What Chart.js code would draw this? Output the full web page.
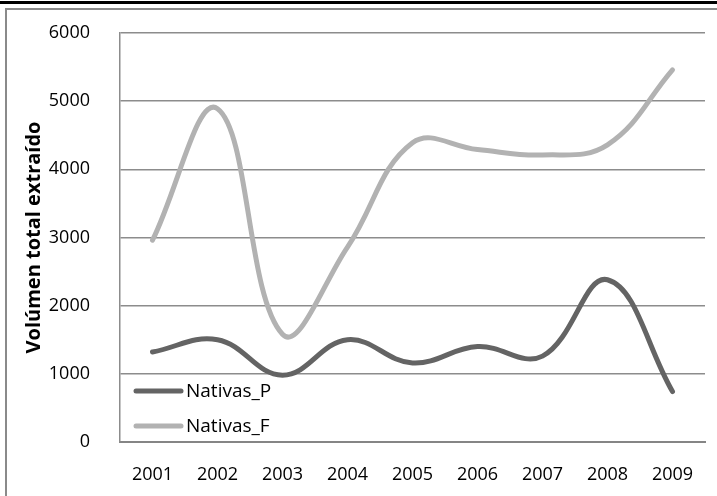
<!DOCTYPE html>
<html>
<head>
<meta charset="utf-8">
<script src="https://cdn.jsdelivr.net/npm/chart.js@4.4.1/dist/chart.umd.min.js"></script>
<style>
  html, body { margin: 0; padding: 0; background: #fff; }
  #wrap { width: 717px; height: 496px; position: relative; }
</style>
</head>
<body>
<div id="wrap"><canvas id="c" width="717" height="496"></canvas></div>
<script>
// Volumen extraído por año, especies nativas
const years = ['2001', '2002', '2003', '2004', '2005', '2006', '2007', '2008', '2009'];
const nativasP = [1320, 1500, 980, 1500, 1160, 1400, 1260, 2380, 740];
const nativasF = [2960, 4890, 1580, 2860, 4390, 4290, 4210, 4360, 5460];
const yTicks = [0, 1000, 2000, 3000, 4000, 5000, 6000];

const FONT = '"Open Sans", "Noto Sans", sans-serif';

// outer frame of the figure
const framePlugin = {
  id: 'frame',
  beforeDraw(chart) {
    const ctx = chart.ctx;
    ctx.save();
    ctx.fillStyle = '#fff';
    ctx.fillRect(0, 0, chart.width, chart.height);
    ctx.strokeStyle = '#000';
    ctx.lineWidth = 3;
    ctx.beginPath();
    ctx.moveTo(0, 2.5); ctx.lineTo(chart.width, 2.5);
    ctx.stroke();
    ctx.strokeStyle = '#8a8a8a';
    ctx.lineWidth = 2;
    ctx.beginPath();
    ctx.moveTo(6, chart.height); ctx.lineTo(6, 9); ctx.lineTo(chart.width, 9);
    ctx.stroke();
    ctx.restore();
  }
};

// legend drawn inside the lower-left corner of the plot
const innerLegend = {
  id: 'innerLegend',
  afterDatasetsDraw(chart) {
    const ctx = chart.ctx;
    const a = chart.chartArea;
    ctx.save();
    ctx.font = '19px ' + FONT;
    ctx.textBaseline = 'middle';
    ctx.textAlign = 'left';
    chart.data.datasets.forEach((ds, i) => {
      const y = a.bottom - 51 + i * 35;
      ctx.strokeStyle = ds.borderColor;
      ctx.lineWidth = 5;
      ctx.lineCap = 'round';
      ctx.beginPath();
      ctx.moveTo(a.left + 16, y); ctx.lineTo(a.left + 61, y);
      ctx.stroke();
      ctx.fillStyle = '#000';
      ctx.fillText(ds.label, a.left + 66, y + 1);
    });
    ctx.restore();
  }
};

new Chart(document.getElementById('c'), {
  type: 'line',
  data: {
    labels: years,
    datasets: [
      { label: 'Nativas_P', data: nativasP, borderColor: '#646464', backgroundColor: '#646464',
        borderWidth: 5, tension: 0.4, pointRadius: 0, borderCapStyle: 'round', fill: false },
      { label: 'Nativas_F', data: nativasF, borderColor: '#b2b2b2', backgroundColor: '#b2b2b2',
        borderWidth: 5, tension: 0.4, pointRadius: 0, borderCapStyle: 'round', fill: false }
    ]
  },
  options: {
    responsive: false,
    animation: false,
    layout: { padding: { left: 14, top: 33, right: 12, bottom: 0 } },
    plugins: { legend: { display: false }, tooltip: { enabled: false } },
    scales: {
      x: {
        offset: true,
        grid: { display: false, drawTicks: false },
        border: { display: true, color: '#858585', width: 2 },
        ticks: { color: '#000', padding: 22, font: { family: FONT, size: 18 }, maxRotation: 0 },
        afterFit(s) { s.height = 54; }
      },
      y: {
        min: 0, max: 6000,
        afterBuildTicks(s) { s.ticks = yTicks.map(v => ({ value: v })); },
        grid: { color: '#8c8c8c', lineWidth: 1.5, drawTicks: false },
        border: { display: true, color: '#8c8c8c', width: 1.5 },
        ticks: { color: '#000', padding: 30, font: { family: FONT, size: 18 },
                 callback: v => String(v) },
        title: { display: true, text: 'Volúmen total extraído', color: '#000',
                 font: { family: FONT, size: 20, weight: 'bold' }, padding: { top: 8, bottom: 0 } },
        afterFit(s) { s.width = 106; s.paddingTop = 0; s.paddingBottom = 0; }
      }
    }
  },
  plugins: [framePlugin, innerLegend]
});
</script>
</body>
</html>
